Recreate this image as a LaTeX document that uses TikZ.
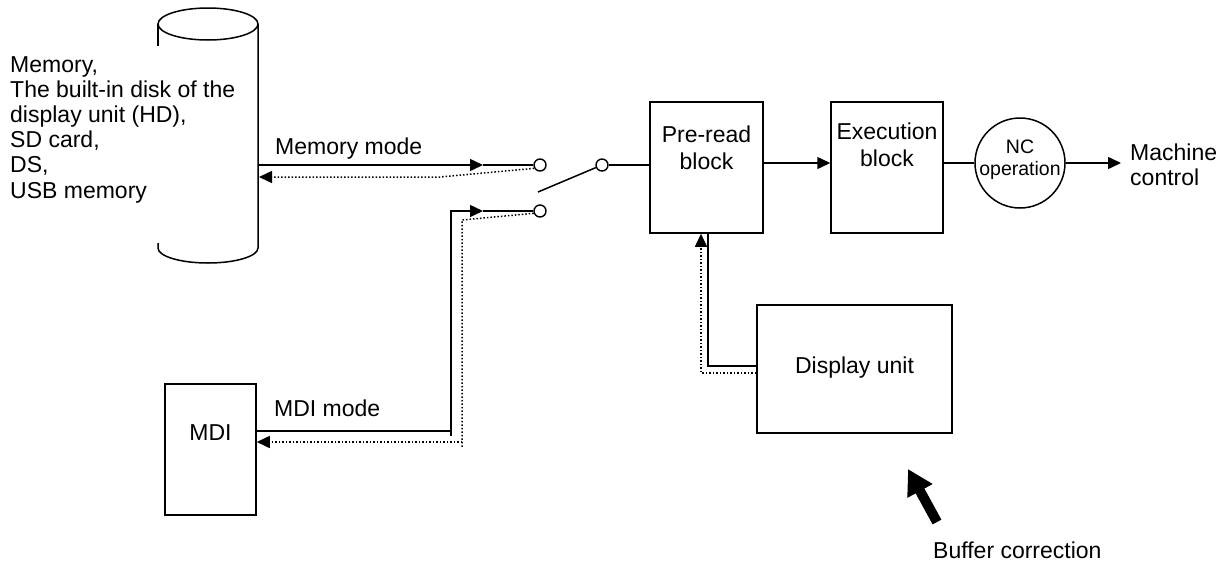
\documentclass[tikz,border=0pt]{standalone}
\usepackage{fontspec}
\setmainfont{Liberation Sans}
\usetikzlibrary{arrows.meta}
\begin{document}
\begin{tikzpicture}[x=1pt,y=-1pt,
  conn/.style={line width=1.5pt, line join=miter},
  ret/.style={line width=1.5pt, dotted},
  tipA/.style={-{Triangle[length=13pt,width=12pt]}},
  box/.style={draw, line width=1.5pt, inner sep=0pt},
  term/.style={draw, circle, line width=1.4pt, fill=white, minimum size=12pt, inner sep=0pt},
  txt/.style={font=\fontsize{23}{25.2}\selectfont, inner sep=0pt},
  btxt/.style={font=\fontsize{23}{27.5}\selectfont, align=center, inner sep=0pt}]
\useasboundingbox (0,0) rectangle (1230,565);
% cylinder (memory)
\draw[line width=1.5pt] (158,24) -- (158,46);
\draw[line width=1.5pt] (158,243) -- (158,248) arc[start angle=180, end angle=360, x radius=50, y radius=-15] -- (258,24);
\draw[line width=1.5pt] (208,24) ellipse[x radius=50, y radius=16];
\coordinate (cylR) at (258,165);
\coordinate (cylRb) at (259,177);
\node[txt, align=left, anchor=north west] (memtxt) at (10,56)
  {Memory,\\The built-in disk of the\\display unit (HD),\\SD card,\\DS,\\USB memory};
% boxes
\node[box, minimum width=113pt, minimum height=131pt] (pre) at (706.5,167.5) {};
\node[btxt] (pretxt) at (706.5,148) {Pre-read\\block};
\node[box, minimum width=112pt, minimum height=131pt] (exe) at (887,167.5) {};
\node[btxt] (exetxt) at (887,145) {Execution\\block};
\node[draw, circle, line width=1.5pt, minimum size=90pt, inner sep=0pt] (nc) at (1020,163) {};
\node[font=\fontsize{19.5}{22}\selectfont, align=center, inner sep=0pt] (nctxt) at (1020,160) {NC\\operation};
\node[box, minimum width=195pt, minimum height=128pt] (disp) at (854.5,369) {};
\node[txt] (disptxt) at (854.5,368) {Display unit};
\node[box, minimum width=91pt, minimum height=131pt] (mdi) at (210.5,449.5) {};
\node[txt, anchor=base] (mditxt) at (210.5,440) {MDI};
% switch
\node[term] (t1) at (540,165) {};
\node[term] (t2) at (540,211) {};
\node[term] (piv) at (602,165) {};
\coordinate (blade) at (538,192);
\draw[conn] (piv) -- (blade);
\draw[conn] (piv) -- (pre.west |- piv);
% memory mode
\node[txt, anchor=base west] (memmode) at (275,154) {Memory mode};
\coordinate (m1) at (483,165);
\draw[conn, tipA] (cylR) -- (m1);
\draw[conn] (m1) -- (t1);
\coordinate (r1) at (440,177);
\draw[ret, tipA] (t1.210) -- (r1) -- (cylRb);
% MDI mode
\node[txt, anchor=base west] (mdimode) at (274,416) {MDI mode};
\coordinate (q0) at (451,431);
\coordinate (q0b) at (451,436);
\coordinate (q1) at (451,211);
\coordinate (q2) at (483,211);
\draw[conn] (mdi.east |- q0) -- (q0);
\draw[conn, tipA] (q0b) -- (q1) -- (q2);
\draw[conn] (q2) -- (t2);
\coordinate (s1) at (462,220);
\coordinate (s2) at (462,448);
\coordinate (s3) at (462,442);
\draw[ret] (t2.200) -- (s1) -- (s2);
\draw[ret, tipA] (s3) -- (mdi.east |- s3);
% pre -> exe -> nc -> machine control
\draw[conn, tipA] (pre.east |- nc) -- (exe.west |- nc);
\draw[conn] (exe.east |- nc) -- (nc);
\coordinate (mc) at (1121,163);
\draw[conn, tipA] (nc) -- (mc);
\node[txt, align=left, anchor=north west] (mctxt) at (1130,143.5) {Machine\\control};
% display unit -> pre-read
\coordinate (d1) at (708,366);
\coordinate (d2) at (701,373);
\draw[conn] (disp.west |- d1) -- (d1) -- (d1 |- pre.south);
\draw[ret, tipA] (disp.west |- d2) -- (d2) -- (d2 |- pre.south);
% buffer correction
\coordinate (b0) at (937,522);
\coordinate (b1) at (908,469);
\draw[line width=10pt, -{Triangle[length=25pt,width=27pt]}] (b0) -- (b1);
\node[txt, anchor=base west] (buf) at (933,558) {Buffer correction};
\end{tikzpicture}
\end{document}
